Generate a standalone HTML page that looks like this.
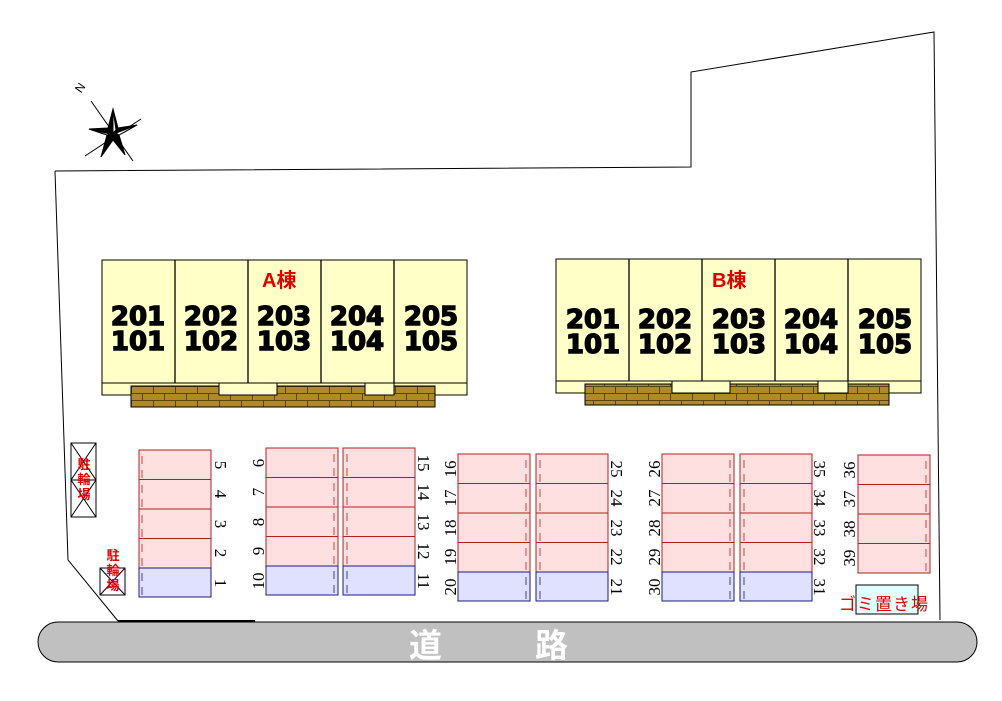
<!DOCTYPE html>
<html><head><meta charset="utf-8"><style>
html,body{margin:0;padding:0;background:#fff;width:1002px;height:701px;overflow:hidden}
svg{display:block}
.num{font-family:"DejaVu Sans","Liberation Sans",sans-serif;font-weight:bold;font-size:26px;fill:#000;stroke:#000;stroke-width:1.4}
.pn{font-family:"Liberation Serif",serif;font-size:17px;fill:#000}
.p{fill:#ffe0e0;stroke:#b02020;stroke-width:1}
.b{fill:#e0e0ff;stroke:#1a1a80;stroke-width:1}
.red{font-family:"Liberation Sans","Noto Sans CJK JP",sans-serif;font-weight:bold;fill:#e00000}
</style></head><body>
<svg width="1002" height="701" viewBox="0 0 1002 701" xmlns="http://www.w3.org/2000/svg">
<defs>
<pattern id="brick" width="22" height="14" patternUnits="userSpaceOnUse" x="131" y="386">
<rect width="22" height="14" fill="#b08a28"/>
<path d="M0 0.5H22M0 7.5H22M0.5 0V7M11.5 7V14" stroke="#5a4410" stroke-width="1" fill="none"/>
</pattern>
</defs>
<polyline points="55,171 691,167 691,72 934,32 940,620" fill="none" stroke="#000" stroke-width="1"/>
<polyline points="55,171 68,560 118,621" fill="none" stroke="#000" stroke-width="1"/>
<line x1="118" y1="621" x2="255" y2="621" stroke="#000" stroke-width="2"/>
<path d="M58,622 H957 A20,20 0 0 1 957,662 H58 A20,20 0 0 1 58,622 Z" fill="#c0c0c0" stroke="#000" stroke-width="1"/>
<text x="409" y="657" font-family="'Noto Sans CJK JP',sans-serif" font-weight="bold" font-size="33" fill="#fff">道</text>
<text x="535" y="657" font-family="'Noto Sans CJK JP',sans-serif" font-weight="bold" font-size="33" fill="#fff">路</text>
<g transform="translate(113,133)" stroke="#000" stroke-width="1">
<line x1="-22" y1="-32" x2="20" y2="28"/>
<line x1="-28" y1="23" x2="28" y2="-14"/>
<polygon points="0,-24 5,-5 24,-8 6,2 12,22 0,7 -12,24 -6,2 -24,-4 -5,-5" fill="#000"/>
<polygon points="0,-24 3,-3 0,0" fill="#fff"/>
<polygon points="24,-8 3,0 6,2" fill="#fff"/>
<polygon points="-24,-4 -3,1 -6,2" fill="#fff"/>
</g>
<text x="76" y="92" font-family="Liberation Sans,sans-serif" font-size="12" transform="rotate(-55 80 88)">N</text>
<!-- Building A -->
<rect x="102" y="383" width="365" height="12" fill="#ffffc8" stroke="#000"/>
<rect x="131" y="386" width="304" height="21" fill="url(#brick)" stroke="#000"/>
<rect x="219" y="383" width="58" height="12" fill="#ffffc8" stroke="#000"/>
<rect x="365" y="383" width="29" height="12" fill="#ffffc8" stroke="#000"/>
<rect x="102" y="260" width="365" height="123" fill="#ffffc8" stroke="#000"/>
<path d="M175 260V383M248 260V383M321 260V383M394 260V383" stroke="#000" stroke-width="1.3"/>
<text class="red" x="262" y="287" font-size="20">A棟</text>
<g class="num" text-anchor="middle">
<text x="138" y="325">201</text><text x="138" y="350">101</text>
<text x="211" y="325">202</text><text x="211" y="350">102</text>
<text x="284" y="325">203</text><text x="284" y="350">103</text>
<text x="357" y="325">204</text><text x="357" y="350">104</text>
<text x="431" y="325">205</text><text x="431" y="350">105</text>
</g>
<!-- Building B -->
<rect x="556" y="381" width="365" height="12" fill="#ffffc8" stroke="#000"/>
<rect x="585" y="384" width="304" height="21" fill="url(#brick)" stroke="#000"/>
<rect x="672" y="381" width="58" height="12" fill="#ffffc8" stroke="#000"/>
<rect x="818" y="381" width="30" height="12" fill="#ffffc8" stroke="#000"/>
<rect x="556" y="259" width="365" height="122" fill="#ffffc8" stroke="#000"/>
<path d="M629 259V381M702 259V381M775 259V381M848 259V381" stroke="#000" stroke-width="1.3"/>
<text class="red" x="712" y="287" font-size="20">B棟</text>
<g class="num" text-anchor="middle">
<text x="593" y="328">201</text><text x="593" y="353">101</text>
<text x="665" y="328">202</text><text x="665" y="353">102</text>
<text x="739" y="328">203</text><text x="739" y="353">103</text>
<text x="811" y="328">204</text><text x="811" y="353">104</text>
<text x="885" y="328">205</text><text x="885" y="353">105</text>
</g>
<g>
<rect class="p" x="139" y="450" width="72" height="29.5"/><rect class="p" x="139" y="479.5" width="72" height="29.5"/><rect class="p" x="139" y="509" width="72" height="29.5"/><rect class="p" x="139" y="538.5" width="72" height="29.5"/><rect class="b" x="139" y="568" width="72" height="29"/>
<rect class="p" x="266" y="448" width="72" height="29.5"/><rect class="p" x="266" y="477.5" width="72" height="29.5"/><rect class="p" x="266" y="507" width="72" height="29.5"/><rect class="p" x="266" y="536.5" width="72" height="29.5"/><rect class="b" x="266" y="566" width="72" height="29"/>
<rect class="p" x="343" y="448" width="72" height="29.5"/><rect class="p" x="343" y="477.5" width="72" height="29.5"/><rect class="p" x="343" y="507" width="72" height="29.5"/><rect class="p" x="343" y="536.5" width="72" height="29.5"/><rect class="b" x="343" y="566" width="72" height="29"/>
<rect class="p" x="458" y="454" width="72" height="29.5"/><rect class="p" x="458" y="483.5" width="72" height="29.5"/><rect class="p" x="458" y="513" width="72" height="29.5"/><rect class="p" x="458" y="542.5" width="72" height="29.5"/><rect class="b" x="458" y="572" width="72" height="29"/>
<rect class="p" x="536" y="454" width="72" height="29.5"/><rect class="p" x="536" y="483.5" width="72" height="29.5"/><rect class="p" x="536" y="513" width="72" height="29.5"/><rect class="p" x="536" y="542.5" width="72" height="29.5"/><rect class="b" x="536" y="572" width="72" height="29"/>
<rect class="p" x="662" y="454" width="72" height="29.5"/><rect class="p" x="662" y="483.5" width="72" height="29.5"/><rect class="p" x="662" y="513" width="72" height="29.5"/><rect class="p" x="662" y="542.5" width="72" height="29.5"/><rect class="b" x="662" y="572" width="72" height="29"/>
<rect class="p" x="740" y="454" width="72" height="29.5"/><rect class="p" x="740" y="483.5" width="72" height="29.5"/><rect class="p" x="740" y="513" width="72" height="29.5"/><rect class="p" x="740" y="542.5" width="72" height="29.5"/><rect class="b" x="740" y="572" width="72" height="29"/>
<rect class="p" x="858" y="455" width="72" height="29.5"/><rect class="p" x="858" y="484.5" width="72" height="29.5"/><rect class="p" x="858" y="514" width="72" height="29.5"/><rect class="p" x="858" y="543.5" width="72" height="29.5"/>
</g>
<g fill="none" stroke="#b02020" stroke-width="0.8">
<path d="M142 456v8M142 470v8M142 485v8M142 499v8M142 515v8M142 529v8M142 544v8M142 558v8"/>
<path d="M334 454v8M334 468v8M334 483v8M334 497v8M334 513v8M334 527v8M334 542v8M334 556v8"/>
<path d="M347 454v8M347 468v8M347 483v8M347 497v8M347 513v8M347 527v8M347 542v8M347 556v8"/>
<path d="M526 460v8M526 474v8M526 489v8M526 503v8M526 519v8M526 533v8M526 548v8M526 562v8"/>
<path d="M540 460v8M540 474v8M540 489v8M540 503v8M540 519v8M540 533v8M540 548v8M540 562v8"/>
<path d="M730 460v8M730 474v8M730 489v8M730 503v8M730 519v8M730 533v8M730 548v8M730 562v8"/>
<path d="M744 460v8M744 474v8M744 489v8M744 503v8M744 519v8M744 533v8M744 548v8M744 562v8"/>
<path d="M926 461v8M926 475v8M926 490v8M926 504v8M926 520v8M926 534v8M926 549v8M926 563v8"/>
</g>
<g fill="none" stroke="#1a1a80" stroke-width="0.8">
<path d="M142 573v8M142 587v8M334 571v8M334 585v8M347 571v8M347 585v8M526 577v8M526 591v8M540 577v8M540 591v8M730 577v8M730 591v8M744 577v8M744 591v8"/>
</g>
<g class="pn" text-anchor="middle">
<text transform="translate(215,465) rotate(90)">5</text><text transform="translate(215,494) rotate(90)">4</text><text transform="translate(215,524) rotate(90)">3</text><text transform="translate(215,553) rotate(90)">2</text><text transform="translate(215,583) rotate(90)">1</text>
<text transform="translate(418,463) rotate(90)">15</text><text transform="translate(418,492) rotate(90)">14</text><text transform="translate(418,522) rotate(90)">13</text><text transform="translate(418,551) rotate(90)">12</text><text transform="translate(418,581) rotate(90)">11</text>
<text transform="translate(611,469) rotate(90)">25</text><text transform="translate(611,498) rotate(90)">24</text><text transform="translate(611,528) rotate(90)">23</text><text transform="translate(611,557) rotate(90)">22</text><text transform="translate(611,587) rotate(90)">21</text>
<text transform="translate(814,469) rotate(90)">35</text><text transform="translate(814,498) rotate(90)">34</text><text transform="translate(814,528) rotate(90)">33</text><text transform="translate(814,557) rotate(90)">32</text><text transform="translate(814,587) rotate(90)">31</text>
<text transform="translate(264,463) rotate(-90)">6</text><text transform="translate(264,492) rotate(-90)">7</text><text transform="translate(264,522) rotate(-90)">8</text><text transform="translate(264,551) rotate(-90)">9</text><text transform="translate(264,581) rotate(-90)">10</text>
<text transform="translate(456,469) rotate(-90)">16</text><text transform="translate(456,498) rotate(-90)">17</text><text transform="translate(456,528) rotate(-90)">18</text><text transform="translate(456,557) rotate(-90)">19</text><text transform="translate(456,587) rotate(-90)">20</text>
<text transform="translate(660,469) rotate(-90)">26</text><text transform="translate(660,498) rotate(-90)">27</text><text transform="translate(660,528) rotate(-90)">28</text><text transform="translate(660,557) rotate(-90)">29</text><text transform="translate(660,587) rotate(-90)">30</text>
<text transform="translate(855,470) rotate(-90)">36</text><text transform="translate(855,499) rotate(-90)">37</text><text transform="translate(855,529) rotate(-90)">38</text><text transform="translate(855,558) rotate(-90)">39</text>
</g>
<g stroke="#000" stroke-width="1" fill="none">
<rect x="71" y="443" width="25" height="74"/>
<path d="M71 443L96 480L71 517M96 443L71 480L96 517M71 480H96"/>
<rect x="100" y="568" width="25" height="27"/>
<path d="M100 568L125 595M125 568L100 595"/>
</g>
<g class="red" font-size="13" text-anchor="middle">
<text x="84" y="469">駐</text><text x="84" y="484">輪</text><text x="84" y="499">場</text>
<text x="113" y="560">駐</text><text x="113" y="575">輪</text><text x="113" y="590">場</text>
</g>
<rect x="856" y="585" width="62" height="29" fill="#e0ffff" stroke="#000"/>
<text x="839" y="610" font-family="'Noto Sans CJK JP',sans-serif" font-size="17" fill="#e00000" letter-spacing="1">ゴミ置き場</text>
</svg>
</body></html>
